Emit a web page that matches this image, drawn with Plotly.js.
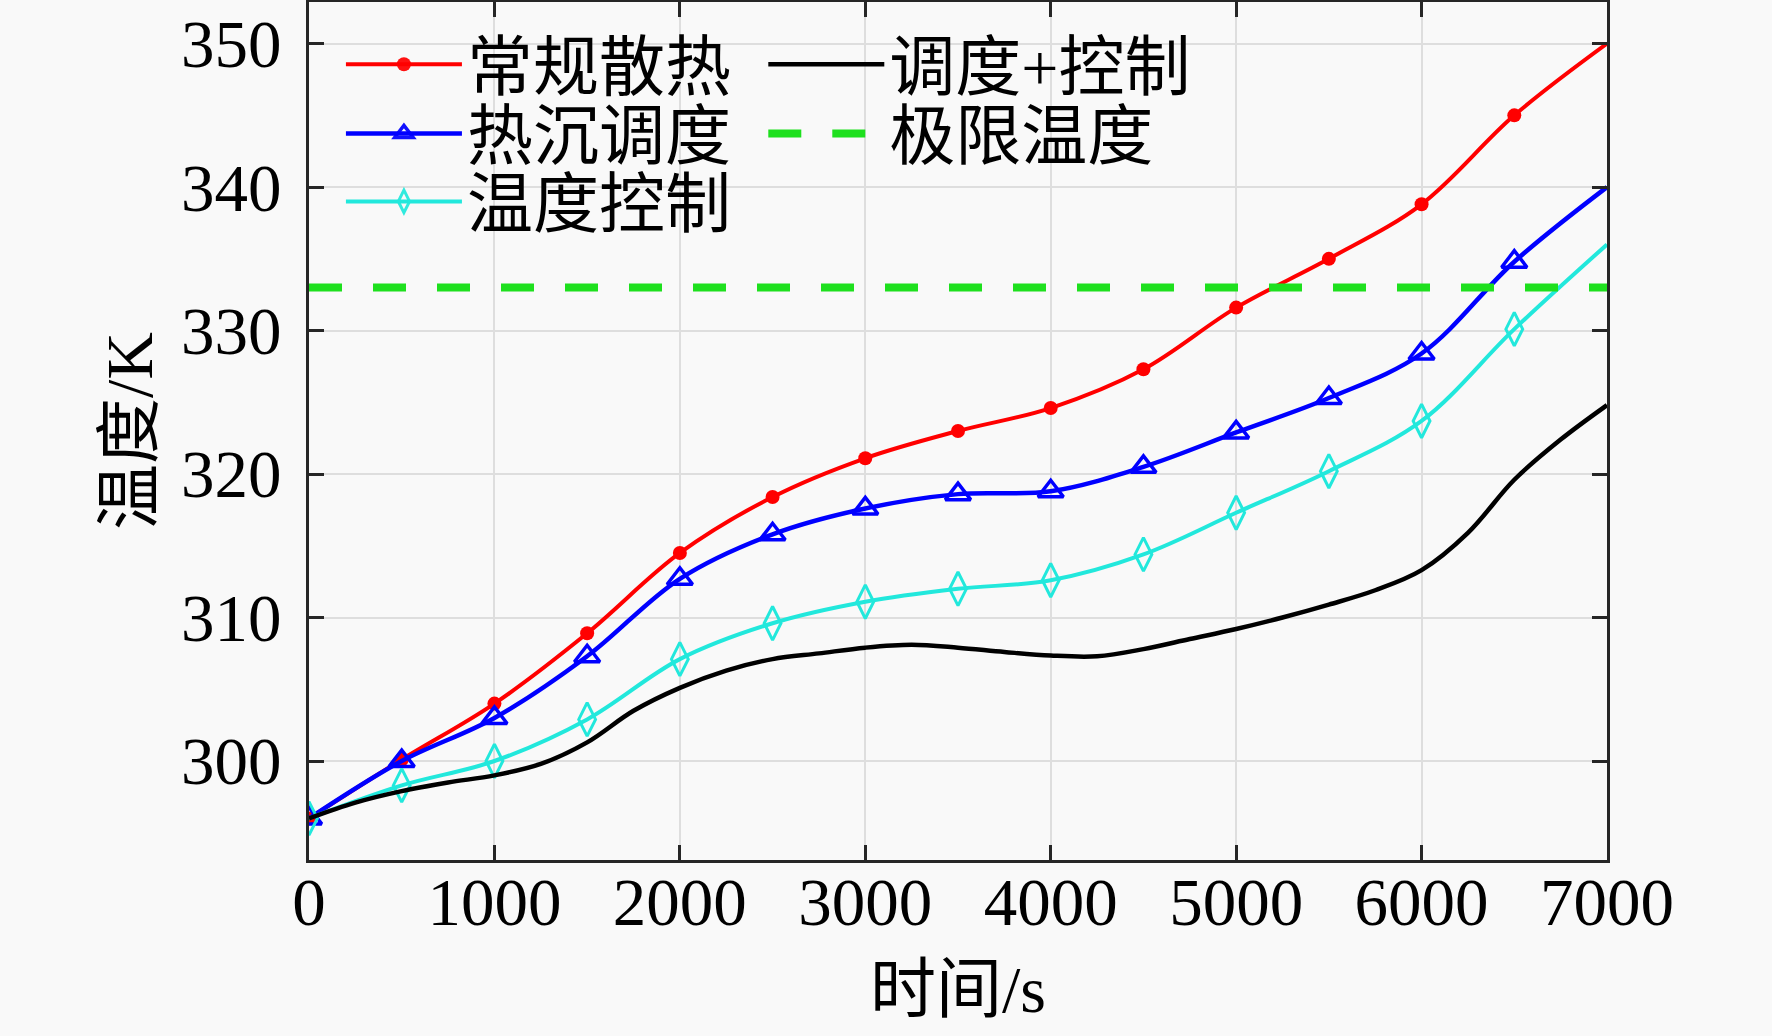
<!DOCTYPE html>
<html>
<head>
<meta charset="utf-8">
<script src="https://cdn.plot.ly/plotly-3.0.1.min.js"></script>
<style>
  html, body { margin: 0; padding: 0; background: #f9f9f9; }
  #chart { width: 1772px; height: 1036px; }
</style>
</head>
<body>
<div id="chart"></div>
<script>
// time axis, s
const time = [0, 500, 1000, 1500, 2000, 2500, 3000, 3500, 4000, 4500, 5000, 5500, 6000, 6500, 7000];
const timeFine = [0, 250, 500, 750, 1000, 1250, 1500, 1750, 2000, 2250, 2500, 2750, 3000, 3250, 3500,
  3750, 4000, 4250, 4500, 4750, 5000, 5250, 5500, 5750, 6000, 6250, 6500, 6750, 7000];

// temperatures, K
const conventional = [296, 300.1, 304.0, 308.9, 314.5, 318.4, 321.1, 323.0, 324.6, 327.3, 331.6, 335.0, 338.8, 345.0, 350.0];
const sinkSchedule = [296, 300.0, 303.0, 307.3, 312.7, 315.8, 317.6, 318.6, 318.8, 320.5, 322.9, 325.3, 328.4, 334.8, 340.0];
const tempControl = [296, 298.3, 300.0, 302.9, 307.1, 309.6, 311.1, 312.0, 312.6, 314.4, 317.3, 320.2, 323.7, 330.1, 336.0];
const combined = [296, 297.1, 297.9, 298.5, 299.0, 299.8, 301.3, 303.5, 305.1, 306.3, 307.1, 307.5, 307.9, 308.1, 307.9,
  307.6, 307.35, 307.3, 307.8, 308.5, 309.2, 310.0, 310.9, 311.9, 313.3, 315.9, 319.6, 322.4, 324.8];
const limitTemp = 333;

const names = ["常规散热", "热沉调度", "温度控制", "调度+控制", "极限温度"];

const FONT = '"Times New Roman", "Liberation Serif", "Noto Sans CJK SC", serif';
const hideLast = (arr) => arr.map((_, i) => (i < arr.length - 1 ? 1 : 0));

const traces = [
  {
    x: time, y: conventional, name: names[0], type: "scatter", mode: "lines+markers",
    line: { color: "#ff0000", width: 4, shape: "spline" },
    marker: { symbol: "circle", size: 14, color: "#ff0000", opacity: hideLast(time) },
    legend: "legend",
  },
  {
    x: time, y: sinkSchedule, name: names[1], type: "scatter", mode: "lines+markers",
    line: { color: "#0000ff", width: 4.5, shape: "spline" },
    marker: { symbol: "triangle-up-open", size: 22, color: "#0000ff", line: { width: 3.5, color: "#0000ff" }, opacity: hideLast(time) },
    legend: "legend2",
  },
  {
    x: time, y: tempControl, name: names[2], type: "scatter", mode: "lines+markers",
    line: { color: "#22e8dc", width: 4, shape: "spline" },
    marker: { symbol: "diamond-tall-open", size: 24, color: "#22e8dc", line: { width: 3, color: "#22e8dc" }, opacity: hideLast(time) },
    legend: "legend3",
  },
  {
    x: timeFine, y: combined, name: names[3], type: "scatter", mode: "lines",
    line: { color: "#000000", width: 4.5, shape: "spline" },
    legend: "legend4",
  },
  {
    x: [time[0], time[time.length - 1]], y: [limitTemp, limitTemp], name: names[4], type: "scatter", mode: "lines",
    line: { color: "#1ee01e", width: 8, dash: "33px,31px" },
    legend: "legend5",
  },
];

const axisCommon = {
  showline: true,
  linecolor: "#262626",
  linewidth: 3,
  mirror: "ticks",
  ticks: "inside",
  ticklen: 15,
  tickwidth: 3,
  tickcolor: "#262626",
  showgrid: true,
  gridcolor: "#dedede",
  gridwidth: 2,
  zeroline: false,
  tickfont: { family: FONT, size: 67, color: "#000" },
};

// one legend per entry so the rows sit as tight as in the figure
const legendAt = (x, y) => ({
  bgcolor: "rgba(0,0,0,0)",
  borderwidth: 0,
  font: { family: FONT, size: 66, color: "#000" },
  yanchor: "top",
  xanchor: "left",
  itemwidth: 116,
  x,
  y,
});
const col1 = 0.0246;
const col2 = 0.35;
const rows = [0.985, 0.9044, 0.8252];

const layout = {
  width: 1772,
  height: 1036,
  margin: { l: 309, r: 165, t: 2, b: 176 },
  paper_bgcolor: "#f9f9f9",
  plot_bgcolor: "#f9f9f9",
  showlegend: true,
  xaxis: {
    ...axisCommon,
    range: [0, 7000],
    tick0: 0,
    dtick: 1000,
    ticklabelstandoff: -18,
    title: { text: "时间/s", font: { family: FONT, size: 66, color: "#000" }, standoff: 28 },
  },
  yaxis: {
    ...axisCommon,
    range: [293.1, 352.9],
    tick0: 300,
    dtick: 10,
    ticklabelstandoff: 11,
    title: { text: "温度/K", font: { family: FONT, size: 66, color: "#000" }, standoff: 7 },
  },
  legend: legendAt(col1, rows[0]),
  legend2: legendAt(col1, rows[1]),
  legend3: legendAt(col1, rows[2]),
  legend4: legendAt(col2, rows[0]),
  legend5: legendAt(col2, rows[1]),
};

Plotly.newPlot("chart", traces, layout, { displayModeBar: false, staticPlot: true });
</script>
</body>
</html>
